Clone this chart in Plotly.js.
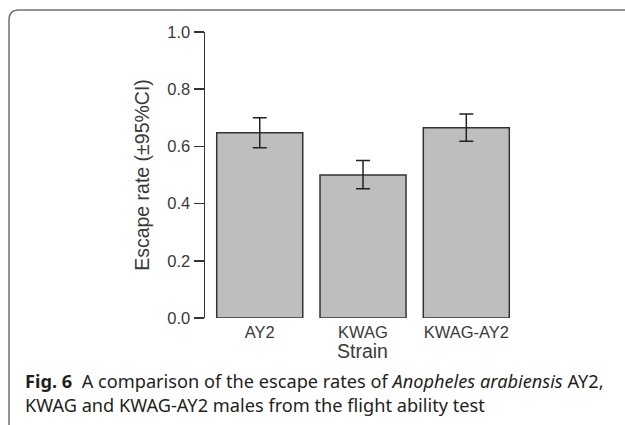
<!DOCTYPE html>
<html>
<head>
<meta charset="utf-8">
<script src="https://cdn.plot.ly/plotly-3.0.1.min.js"></script>
<style>html,body{margin:0;padding:0;background:#fff;}#chart{width:625px;height:425px;}</style>
</head>
<body>
<div id="chart"></div>
<script>
// ---- data ----
var strains = ["AY2", "KWAG", "KWAG-AY2"];
var escapeRate = [0.648, 0.500, 0.665];
var ciUpper = [0.700, 0.551, 0.713];
var ciLower = [0.595, 0.452, 0.618];
var yTickVals = [0, 0.2, 0.4, 0.6, 0.8, 1.0];
var yTickText = ["0.0", "0.2", "0.4", "0.6", "0.8", "1.0"];

var errPlus = escapeRate.map(function (v, i) { return ciUpper[i] - v; });
var errMinus = escapeRate.map(function (v, i) { return v - ciLower[i]; });

// ---- geometry helpers (page pixels -> paper coords) ----
var W = 625, H = 425;
var M = {l: 205, r: 105, t: 32, b: 107};
var pw = W - M.l - M.r, ph = H - M.t - M.b;
function px(x) { return (x - M.l) / pw; }
function py(y) { return (H - M.b - y) / ph; }

var framePath = "M " + px(9) + " " + py(432) +
  " L " + px(9) + " " + py(20) +
  " Q " + px(9) + " " + py(10) + " " + px(19) + " " + py(10) +
  " L " + px(640) + " " + py(10);

var tickFont = {family: "Liberation Sans, Arial, sans-serif", size: 16.5, color: "#3a3a3a"};
var titleFont = {family: "Liberation Sans, Arial, sans-serif", size: 19.5, color: "#3a3a3a"};
var capFont = {family: "Noto Sans, sans-serif", size: 18.2, color: "#231f20"};

var trace = {
  type: "bar",
  x: strains,
  y: escapeRate,
  marker: {color: "#bebebe", line: {color: "#333", width: 1.5}},
  error_y: {type: "data", symmetric: false, array: errPlus, arrayminus: errMinus,
            color: "#222", thickness: 1.5, width: 7},
  hoverinfo: "x+y"
};

var layout = {
  width: W, height: H,
  margin: M,
  paper_bgcolor: "#fff", plot_bgcolor: "#fff",
  showlegend: false,
  bargap: 0.167,
  font: tickFont,
  xaxis: {
    type: "category",
    range: [-0.53, 2.52],
    showline: false, showgrid: false, zeroline: false, ticks: "",
    tickfont: tickFont,
    ticklabelstandoff: 2,
    title: {text: "Strain", font: titleFont, standoff: 0},
    automargin: false
  },
  yaxis: {
    range: [0, 1],
    showline: true, linecolor: "#333", linewidth: 1.5,
    showgrid: false, zeroline: false,
    ticks: "outside", ticklen: 10, tickwidth: 1.5, tickcolor: "#333",
    tickvals: yTickVals, ticktext: yTickText,
    tickfont: tickFont,
    title: {text: "Escape rate (\u00B195%CI)", font: titleFont, standoff: 12},
    automargin: false
  },
  shapes: [{
    type: "path", xref: "paper", yref: "paper", path: framePath,
    line: {color: "#707070", width: 1.5}
  }],
  annotations: [{
    xref: "paper", yref: "paper",
    x: px(24), y: py(368),
    xanchor: "left", yanchor: "top", align: "left",
    showarrow: false, borderpad: 0,
    font: capFont,
    text: "<b>Fig. 6</b>  A comparison of the escape rates of <i>Anopheles arabiensis</i> AY2,<br>KWAG and KWAG-AY2 males from the flight ability test"
  }]
};

Plotly.newPlot("chart", [trace], layout, {displayModeBar: false, staticPlot: true});
</script>
</body>
</html>
